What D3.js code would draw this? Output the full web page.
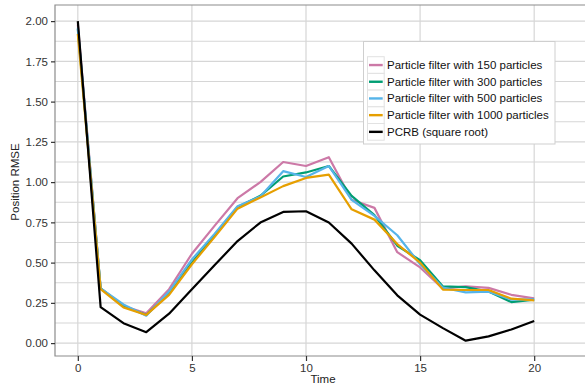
<!DOCTYPE html>
<html>
<head>
<meta charset="utf-8">
<script src="https://cdn.jsdelivr.net/npm/d3@7"></script>
<style>
  body { margin: 0; background: #fff; }
  svg text { font-family: "Liberation Sans", Arial, sans-serif; }
</style>
</head>
<body>
<svg id="chart" width="585" height="389"></svg>
<script>
/*Chart data*/
var times = d3.range(0, 21);
var pf150  = [1.98, 0.34, 0.23, 0.185, 0.335, 0.555, 0.73, 0.90, 1.00, 1.125, 1.10, 1.155, 0.89, 0.84, 0.565, 0.47, 0.338, 0.352, 0.343, 0.30, 0.278];
var pf300  = [1.95, 0.34, 0.23, 0.175, 0.31, 0.50, 0.67, 0.845, 0.915, 1.035, 1.06, 1.10, 0.915, 0.795, 0.605, 0.515, 0.352, 0.348, 0.32, 0.255, 0.27];
var pf500  = [1.96, 0.34, 0.24, 0.17, 0.32, 0.52, 0.68, 0.85, 0.91, 1.068, 1.032, 1.10, 0.89, 0.79, 0.67, 0.49, 0.345, 0.315, 0.32, 0.27, 0.272];
var pf1000 = [1.92, 0.335, 0.222, 0.175, 0.30, 0.49, 0.66, 0.835, 0.905, 0.975, 1.026, 1.047, 0.831, 0.767, 0.615, 0.50, 0.332, 0.33, 0.33, 0.276, 0.266];
var pcrb   = [2.00, 0.224, 0.124, 0.068, 0.183, 0.335, 0.485, 0.634, 0.749, 0.815, 0.819, 0.749, 0.618, 0.452, 0.297, 0.177, 0.093, 0.015, 0.042, 0.085, 0.137];

var seriesNames = ["Particle filter with 150 particles", "Particle filter with 300 particles",
  "Particle filter with 500 particles", "Particle filter with 1000 particles", "PCRB (square root)"];
var seriesValues = [pf150, pf300, pf500, pf1000, pcrb];
var seriesColors = ["#CC79A7", "#009E73", "#56B4E9", "#E69F00", "#000000"];

var xTicks = [0, 5, 10, 15, 20];
var yTicks = [0, 0.25, 0.5, 0.75, 1.0, 1.25, 1.5, 1.75, 2.0];
var yMinor = [0.125, 0.375, 0.625, 0.875, 1.125, 1.375, 1.625, 1.875];

/*Layout*/
var svg = d3.select("#chart");
var panel = {left: 55, right: 585, top: 5, bottom: 356};

var x = d3.scaleLinear().domain([-1, 21]).range([55, 557]);
var y = d3.scaleLinear().domain([-0.08, 2.1]).range([panel.bottom, panel.top]);

var grid = svg.append("g");
//horizontal grid, minor and major look alike
grid.selectAll("line.gy").data(yMinor.concat(yTicks)).enter().append("line")
  .attr("x1", panel.left).attr("x2", panel.right)
  .attr("y1", function(d){ return y(d); }).attr("y2", function(d){ return y(d); })
  .attr("stroke", "#d6d6d6").attr("stroke-width", 1.2);
grid.selectAll("line.gx").data(xTicks).enter().append("line")
  .attr("x1", function(d){ return x(d); }).attr("x2", function(d){ return x(d); })
  .attr("y1", panel.top).attr("y2", panel.bottom)
  .attr("stroke", "#d6d6d6").attr("stroke-width", 1.2);

//panel border
svg.append("path")
  .attr("d", "M" + panel.right + "," + panel.top + "H" + panel.left + "V" + panel.bottom + "H" + panel.right)
  .attr("fill", "none").attr("stroke", "#8c8c8c").attr("stroke-width", 1.2);

//axes
var xAxis = svg.append("g").attr("transform", "translate(0," + panel.bottom + ")")
  .call(d3.axisBottom(x).tickValues(xTicks).tickSize(5).tickPadding(3).tickFormat(d3.format("d")));
var yAxis = svg.append("g").attr("transform", "translate(" + panel.left + ",0)")
  .call(d3.axisLeft(y).tickValues(yTicks).tickSize(4).tickPadding(3).tickFormat(d3.format(".2f")));
[xAxis, yAxis].forEach(function(a){
  a.select(".domain").remove();
  a.selectAll(".tick line").attr("stroke", "#333").attr("stroke-width", 1.2);
  a.selectAll(".tick text").attr("fill", "#333").style("font-size", "11.5px");
});

//axis titles
svg.append("text").attr("x", 323).attr("y", 383).attr("text-anchor", "middle")
  .style("font-size", "11.5px").attr("fill", "#222").text("Time");
svg.append("text").attr("transform", "translate(19,182) rotate(-90)").attr("text-anchor", "middle")
  .style("font-size", "11.5px").attr("fill", "#222").text("Position RMSE");

//lines
var line = d3.line()
  .x(function(d, i){ return x(times[i]); })
  .y(function(d){ return y(d); });

svg.append("g").selectAll("path").data(seriesValues).enter().append("path")
  .attr("d", line)
  .attr("fill", "none")
  .attr("stroke", function(d, i){ return seriesColors[i]; })
  .attr("stroke-width", 2.2)
  .attr("stroke-linejoin", "round");

//legend
var legend = svg.append("g");
legend.append("rect").attr("x", 363.5).attr("y", 41.5).attr("width", 191.5).attr("height", 102.5)
  .attr("fill", "#fff").attr("stroke", "#cfcfcf").attr("stroke-width", 1);
var rowH = 16.7;
var rows = legend.selectAll("g.row").data(seriesNames).enter().append("g")
  .attr("transform", function(d, i){ return "translate(367.5," + (56.7 + i * rowH) + ")"; });
rows.append("rect").attr("width", 16.7).attr("height", rowH)
  .attr("fill", "#fff").attr("stroke", "#e2e2e2").attr("stroke-width", 1);
rows.append("line").attr("x1", 1.5).attr("x2", 15.2).attr("y1", rowH / 2).attr("y2", rowH / 2)
  .attr("stroke", function(d, i){ return seriesColors[i]; }).attr("stroke-width", 2.4);
rows.append("text").attr("x", 19.5).attr("y", rowH / 2 + 4)
  .style("font-size", "11.5px").attr("fill", "#111").text(function(d){ return d; });
</script>
</body>
</html>
